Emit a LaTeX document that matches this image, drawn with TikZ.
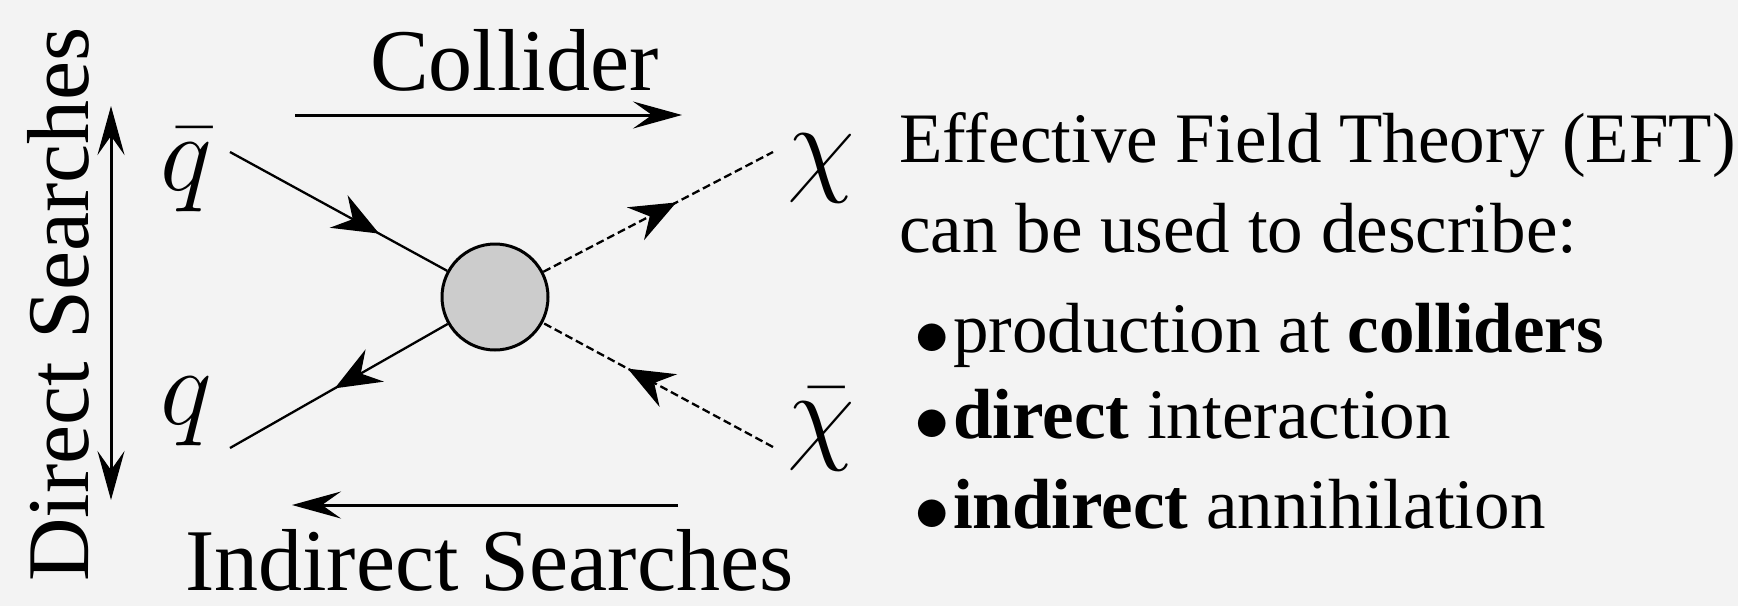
\RequirePackage{fix-cm}
\documentclass[tikz,border=0pt]{standalone}
\usepackage{fontspec}
\setmainfont{Liberation Serif}
\usetikzlibrary{arrows.meta,decorations.markings}
\definecolor{bg}{RGB}{243,243,243}
\definecolor{blobfill}{RGB}{204,204,204}
\tikzset{
  big/.style={font=\fontsize{88}{100}\selectfont, inner sep=0pt, anchor=base west},
  body/.style={font=\fontsize{71}{80}\selectfont, inner sep=0pt, anchor=base west},
  particle/.style={font=\fontsize{110}{120}\selectfont, inner sep=0pt, anchor=base west},
  bigarrow/.style={line width=3pt, -{Stealth[length=49pt,width=27pt,inset=19pt]}},
  bigdouble/.style={line width=3pt, {Stealth[length=49pt,width=27pt,inset=19pt]}-{Stealth[length=49pt,width=27pt,inset=19pt]}},
  midarrow/.style={postaction={decorate}, decoration={markings, mark=at position #1 with {\arrow{Stealth[length=46pt,width=37pt,inset=16pt]}}}},
  fermion/.style={line width=2.3pt, midarrow=#1},
  scalar/.style={line width=2.3pt, dash pattern=on 8pt off 4pt, midarrow=#1},
  blobstyle/.style={circle, draw, line width=3pt, fill=blobfill, minimum size=106pt, inner sep=0pt}
}
\begin{document}
\begin{tikzpicture}[x=1pt,y=-1pt]
\useasboundingbox (0,0) rectangle (1738,606);
\fill[bg] (0,0) rectangle (1738,606);

% labels
\node[big] (collider) at (370,90) {Collider};
\node[big] (indirect) at (185,590) {Indirect Searches};
\node[big, rotate=90] (direct) at (88,582) {Direct Searches};

% particles
\node[particle] (qbar) at (160,190) {$\bar{q}$};
\node[particle] (q) at (160,424) {$q$};
\node[particle] (chi) at (787,181) {$\chi$};
\node[particle] (chibar) at (787,449) {$\bar{\chi}$};

% blob
\node[blobstyle] (blob) at (495,297) {};

% line ends
\coordinate (qbarend) at (230,152);
\coordinate (qend) at (230,448);
\coordinate (chiend) at (773,152);
\coordinate (chibarend) at (773,447);

\draw[fermion=170pt] (qbarend) -- (blob);
\draw[fermion=130pt] (blob) -- (qend);
\draw[scalar=150pt] (blob) -- (chiend);
\draw[scalar=165pt] (chibarend) -- (blob);

% direction arrows
\coordinate (colA) at (295,115);
\coordinate (colB) at (682,115);
\coordinate (indA) at (678,505);
\coordinate (indB) at (292,505);
\coordinate (dirA) at (111,106);
\coordinate (dirB) at (111,500);
\draw[bigarrow] (colA) -- (colB);
\draw[bigarrow] (indA) -- (indB);
\draw[bigdouble] (dirA) -- (dirB);

% text
\node[body] (eft) at (899,162) {Effective Field Theory (EFT)};
\node[body] (can) at (899,252) {can be used to describe:};
\node[body] (b1) at (914,352) {\makebox[39pt][l]{\raisebox{-3pt}{$\bullet$}}production at \textbf{colliders}};
\node[body] (b2) at (914,438) {\makebox[39pt][l]{\raisebox{-3pt}{$\bullet$}}\textbf{direct} interaction};
\node[body] (b3) at (914,528) {\makebox[39pt][l]{\raisebox{-3pt}{$\bullet$}}\textbf{indirect} annihilation};
\end{tikzpicture}
\end{document}
